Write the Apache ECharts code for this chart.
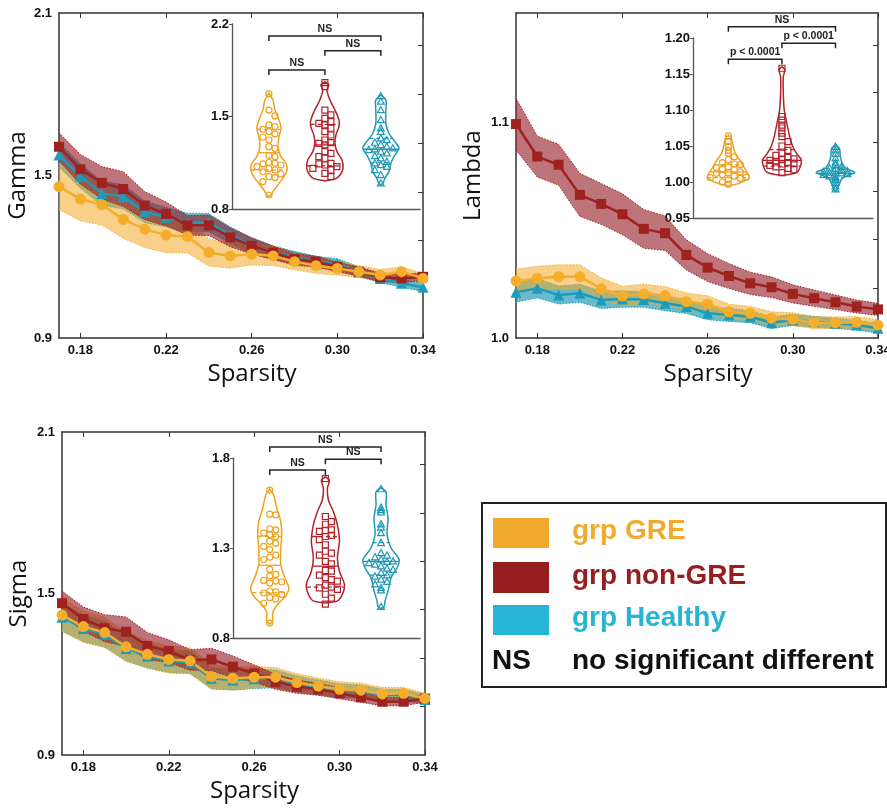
<!DOCTYPE html>
<html>
<head>
<meta charset="UTF-8">
<title>Gamma / Lambda / Sigma vs Sparsity</title>
<script src="https://cdn.jsdelivr.net/npm/echarts@6/dist/echarts.min.js"></script>
<style>html,body{margin:0;padding:0;background:#fff}</style>
</head>
<body>
<div id="main" style="width:887px;height:809px"></div>
<script>
// ---- shared x values / ticks
var sparsity = [0.17,0.18,0.19,0.20,0.21,0.22,0.23,0.24,0.25,0.26,0.27,0.28,0.29,0.30,0.31,0.32,0.33,0.34];
var xTicks = [0.18,0.22,0.26,0.30,0.34];

// ---- Gamma (mean, sd)
var gammaGRE     = [1.459,1.413,1.392,1.338,1.302,1.280,1.274,1.216,1.203,1.210,1.203,1.182,1.167,1.157,1.145,1.133,1.145,1.120];
var gammaNonGRE  = [1.606,1.523,1.473,1.450,1.389,1.358,1.316,1.316,1.272,1.240,1.215,1.191,1.182,1.163,1.145,1.124,1.120,1.126];
var gammaHealthy = [1.576,1.498,1.434,1.422,1.366,1.346,1.326,1.326,1.280,1.240,1.215,1.198,1.182,1.173,1.145,1.120,1.102,1.087];
var gammaSdGRE     = [0.085,0.080,0.075,0.070,0.068,0.065,0.060,0.050,0.045,0.040,0.035,0.030,0.028,0.025,0.022,0.020,0.018,0.018];
var gammaSdNonGRE  = [0.052,0.055,0.060,0.064,0.052,0.044,0.036,0.038,0.035,0.030,0.025,0.022,0.020,0.018,0.017,0.016,0.015,0.015];
var gammaSdHealthy = [0.045,0.045,0.045,0.045,0.040,0.036,0.035,0.034,0.030,0.030,0.025,0.022,0.020,0.020,0.018,0.016,0.015,0.015];

// ---- Lambda
var lambdaGRE     = [1.0265,1.0278,1.0285,1.0285,1.0229,1.0195,1.0205,1.0197,1.0169,1.0158,1.0122,1.0115,1.0092,1.0087,1.0071,1.0071,1.0073,1.0060];
var lambdaNonGRE  = [1.0994,1.0843,1.0805,1.0665,1.0623,1.0575,1.0507,1.0487,1.0386,1.0327,1.0288,1.0254,1.0236,1.0205,1.0185,1.0166,1.0146,1.0133];
var lambdaHealthy = [1.0212,1.0231,1.0200,1.0208,1.0177,1.0181,1.0179,1.0161,1.0146,1.0115,1.0107,1.0099,1.0071,1.0084,1.0076,1.0068,1.0060,1.0045];
var lambdaSdGRE     = [0.0055,0.0055,0.0055,0.0055,0.0050,0.0045,0.0045,0.0042,0.0040,0.0038,0.0035,0.0032,0.0030,0.0030,0.0028,0.0027,0.0026,0.0025];
var lambdaSdNonGRE  = [0.0120,0.0095,0.0095,0.0100,0.0095,0.0095,0.0090,0.0080,0.0070,0.0065,0.0058,0.0052,0.0048,0.0042,0.0038,0.0034,0.0030,0.0028];
var lambdaSdHealthy = [0.0045,0.0045,0.0042,0.0042,0.0040,0.0038,0.0036,0.0034,0.0032,0.0030,0.0030,0.0028,0.0027,0.0026,0.0025,0.0024,0.0023,0.0022];

// ---- Sigma
var sigmaGRE     = [1.420,1.377,1.355,1.302,1.274,1.255,1.250,1.191,1.185,1.189,1.189,1.169,1.156,1.144,1.141,1.127,1.129,1.110];
var sigmaNonGRE  = [1.464,1.405,1.371,1.358,1.305,1.286,1.253,1.255,1.228,1.203,1.172,1.154,1.144,1.129,1.114,1.098,1.098,1.110];
var sigmaHealthy = [1.412,1.370,1.349,1.296,1.268,1.249,1.244,1.185,1.179,1.183,1.183,1.164,1.151,1.139,1.136,1.122,1.124,1.106];
var sigmaSdGRE     = [0.060,0.058,0.056,0.054,0.052,0.050,0.048,0.045,0.042,0.040,0.036,0.033,0.030,0.028,0.026,0.024,0.022,0.020];
var sigmaSdNonGRE  = [0.045,0.045,0.050,0.055,0.050,0.042,0.038,0.042,0.040,0.032,0.028,0.025,0.022,0.020,0.018,0.016,0.015,0.014];
var sigmaSdHealthy = [0.052,0.050,0.048,0.047,0.045,0.043,0.042,0.040,0.038,0.036,0.033,0.030,0.028,0.026,0.024,0.022,0.020,0.018];

// ---- main axis tick labels
var gammaYLabels = [0.9,1.5,2.1];
var lambdaYLabels = [1.0,1.1];
var sigmaYLabels = [0.9,1.5,2.1];
var gammaRightTicks = [1.08,1.26,1.44,1.62,1.80,1.98];
var lambdaRightTicks = [1.023,1.046,1.068,1.091,1.114,1.136];
var sigmaRightTicks = [1.08,1.26,1.44,1.62,1.80,1.98];

// ---- inset (violin) data: group positions 1,2,3
var groupPos = [1,2,3];
var gammaInsetLabels = [0.8,1.5,2.2];
var lambdaInsetLabels = [0.95,1.00,1.05,1.10,1.15,1.20];
var sigmaInsetLabels = [0.8,1.3,1.8];

var gammaPtsGRE = [1.671,1.549,1.504,1.436,1.423,1.403,1.385,1.368,1.343,1.322,1.272,1.259,1.204,1.196,1.152,1.146,1.141,1.133,1.120,1.105,1.095,1.082,1.065,1.045,1.038,1.007,0.906];
var gammaPtsNonGRE = [1.756,1.726,1.549,1.512,1.486,1.461,1.448,1.436,1.411,1.385,1.360,1.322,1.302,1.297,1.285,1.234,1.221,1.196,1.184,1.146,1.141,1.133,1.120,1.108,1.095,1.070,1.045];
var gammaPtsHealthy = [1.655,1.613,1.549,1.474,1.411,1.385,1.335,1.322,1.302,1.285,1.272,1.259,1.252,1.247,1.234,1.221,1.201,1.184,1.158,1.146,1.133,1.120,1.095,1.057,0.994];
// [value, relative half width]
var gammaVioGRE = [[1.676,0],[1.625,0.2],[1.549,0.3],[1.474,0.5],[1.411,0.6],[1.348,0.5],[1.272,0.45],[1.196,0.6],[1.146,0.85],[1.095,0.9],[1.045,0.75],[0.994,0.5],[0.944,0.25],[0.906,0.1],[0.893,0]];
var gammaVioNonGRE = [[1.764,0],[1.739,0.2],[1.700,0.1],[1.625,0.25],[1.549,0.5],[1.474,0.7],[1.423,0.7],[1.360,0.55],[1.297,0.5],[1.234,0.6],[1.171,0.85],[1.108,0.9],[1.057,0.75],[1.030,0.55],[1.012,0]];
var gammaVioHealthy = [[1.663,0],[1.625,0.25],[1.549,0.25],[1.448,0.25],[1.373,0.4],[1.310,0.7],[1.259,0.9],[1.209,0.7],[1.146,0.5],[1.083,0.4],[1.032,0.2],[0.994,0.1],[0.982,0]];
var gammaQuartGRE = [1.095,1.226,1.403];
var gammaQuartNonGRE = [1.126,1.285,1.441];
var gammaQuartHealthy = [1.151,1.252,1.335];
var gammaBrackets = [[1,3,2.109,'NS'],[2,3,1.998,'NS'],[1,2,1.852,'NS']];

var lambdaPtsGRE = [1.064,1.056,1.049,1.044,1.040,1.035,1.031,1.027,1.025,1.024,1.021,1.020,1.018,1.017,1.014,1.013,1.012,1.010,1.008,1.007,1.006,1.005,1.003,1.000,0.997];
var lambdaPtsNonGRE = [1.158,1.091,1.086,1.079,1.075,1.068,1.063,1.056,1.050,1.044,1.040,1.037,1.034,1.032,1.031,1.030,1.028,1.027,1.026,1.025,1.023,1.021,1.019,1.017,1.013];
var lambdaPtsHealthy = [1.049,1.044,1.039,1.033,1.027,1.024,1.021,1.019,1.018,1.017,1.015,1.014,1.013,1.012,1.012,1.011,1.010,1.008,1.007,1.005,1.003,0.999,0.994,0.990];
var lambdaVioGRE = [[1.065,0],[1.061,0.15],[1.049,0.25],[1.040,0.35],[1.030,0.6],[1.021,0.8],[1.012,1.0],[1.006,1.1],[1.001,0.8],[0.997,0.4],[0.995,0]];
var lambdaVioNonGRE = [[1.160,0],[1.156,0.15],[1.146,0.07],[1.123,0.07],[1.100,0.12],[1.086,0.22],[1.063,0.4],[1.050,0.55],[1.040,0.75],[1.031,1.0],[1.021,0.95],[1.014,0.8],[1.011,0.5],[1.009,0]];
var lambdaVioHealthy = [[1.051,0],[1.047,0.2],[1.035,0.25],[1.026,0.35],[1.019,0.55],[1.013,1.0],[1.010,0.75],[1.005,0.35],[0.996,0.18],[0.989,0.08],[0.987,0]];
var lambdaQuartGRE = [1.006,1.014,1.024];
var lambdaQuartNonGRE = [1.022,1.030,1.045];
var lambdaQuartHealthy = [1.006,1.012,1.019];
var lambdaBrackets = [[1,3,1.2157,'NS'],[2,3,1.1926,'p < 0.0001'],[1,2,1.1704,'p < 0.0001']];

var sigmaPtsGRE = [1.622,1.488,1.484,1.407,1.401,1.383,1.374,1.362,1.337,1.326,1.309,1.291,1.260,1.249,1.236,1.181,1.153,1.144,1.120,1.116,1.111,1.105,1.061,1.056,1.050,1.043,1.024,1.017,0.993,0.883];
var sigmaPtsNonGRE = [1.686,1.475,1.447,1.432,1.401,1.396,1.392,1.370,1.364,1.346,1.318,1.282,1.272,1.260,1.226,1.212,1.175,1.171,1.149,1.135,1.124,1.116,1.094,1.083,1.079,1.070,1.043,1.021,0.988];
var sigmaPtsHealthy = [1.627,1.524,1.511,1.499,1.432,1.414,1.383,1.328,1.272,1.258,1.249,1.236,1.226,1.223,1.217,1.208,1.199,1.186,1.179,1.162,1.149,1.142,1.125,1.112,1.098,1.079,1.065,0.973];
var sigmaVioGRE = [[1.627,0],[1.594,0.2],[1.521,0.35],[1.447,0.55],[1.374,0.6],[1.300,0.55],[1.208,0.55],[1.135,0.75],[1.079,0.95],[1.033,0.8],[0.988,0.4],[0.942,0.15],[0.896,0.15],[0.877,0]];
var sigmaVioNonGRE = [[1.695,0],[1.677,0.2],[1.631,0.1],[1.567,0.15],[1.502,0.4],[1.429,0.6],[1.337,0.7],[1.245,0.6],[1.171,0.7],[1.098,0.95],[1.043,0.85],[1.006,0.6],[0.995,0]];
var sigmaVioHealthy = [[1.634,0],[1.612,0.25],[1.539,0.25],[1.465,0.35],[1.374,0.3],[1.300,0.5],[1.236,0.9],[1.190,0.8],[1.135,0.5],[1.061,0.35],[1.006,0.2],[0.973,0.15],[0.965,0]];
var sigmaQuartGRE = [1.052,1.204,1.364];
var sigmaQuartNonGRE = [1.083,1.199,1.364];
var sigmaQuartHealthy = [1.149,1.226,1.330];
var sigmaBrackets = [[1,3,1.861,'NS'],[2,3,1.793,'NS'],[1,2,1.733,'NS']];

// ---- colours
var cGRE = '#F4AE2C', cNon = '#A0221F', cHealthy = '#1D9CB9';
var vGRE = '#F0A21E', vNon = '#B0232B', vHealthy = '#2099B4';
var bandGRE = 'rgba(242,170,40,0.55)', bandNon = 'rgba(150,30,42,0.62)', bandHealthy = 'rgba(30,155,180,0.68)';
var lbl = '"Liberation Sans", Arial, sans-serif';
var VIOLIN_W = 0.36;

var dom = document.getElementById('main');
var myChart = echarts.init(dom);

var xAxes = [], yAxes = [], series = [];
var frame = {show: true, onZero: false, lineStyle: {color: '#333', width: 1.5}};
var tickFont = {fontWeight: 'bold', fontSize: 13, fontFamily: lbl, color: '#111'};

function mainAxes(gi, yMin, yMax, yLabels, rightTicks, yName, yGap) {
    xAxes.push({gridIndex: gi, type: 'value', min: 0.17, max: 0.34, position: 'bottom',
        axisLine: frame, splitLine: {show: false},
        axisTick: {show: true, inside: true, length: 5, customValues: xTicks, lineStyle: {color: '#333'}},
        axisLabel: Object.assign({customValues: xTicks, margin: 6, formatter: function (v) { return v.toFixed(2); }}, tickFont),
        name: 'Sparsity', nameLocation: 'middle', nameGap: 24,
        nameTextStyle: {fontSize: 24, fontFamily: 'Open Sans', color: '#111', padding: [0, 0, 0, 22]}});
    xAxes.push({gridIndex: gi, type: 'value', min: 0.17, max: 0.34, position: 'top',
        axisLine: frame, splitLine: {show: false}, axisLabel: {show: false},
        axisTick: {show: true, inside: true, length: 5, customValues: xTicks, lineStyle: {color: '#333'}}});
    yAxes.push({gridIndex: gi, type: 'value', min: yMin, max: yMax, position: 'left',
        axisLine: frame, splitLine: {show: false}, axisTick: {show: false},
        axisLabel: Object.assign({customValues: yLabels, margin: 7, formatter: function (v) { return v.toFixed(1); }}, tickFont),
        name: yName, nameLocation: 'middle', nameGap: yGap,
        nameTextStyle: {fontSize: 24, fontFamily: 'Open Sans', color: '#111'}});
    yAxes.push({gridIndex: gi, type: 'value', min: yMin, max: yMax, position: 'right',
        axisLine: frame, splitLine: {show: false}, axisLabel: {show: false},
        axisTick: {show: true, inside: true, length: 5, customValues: rightTicks, lineStyle: {color: '#333'}}});
}

function insetAxes(gi, yMin, yMax, yLabels, digits) {
    xAxes.push({gridIndex: gi, type: 'value', min: 0.34, max: 3.7, position: 'bottom',
        axisLine: {show: true, onZero: false, lineStyle: {color: '#555', width: 1.3}},
        axisTick: {show: false}, axisLabel: {show: false}, splitLine: {show: false}});
    yAxes.push({gridIndex: gi, type: 'value', min: yMin, max: yMax, position: 'left',
        axisLine: {show: true, onZero: false, lineStyle: {color: '#555', width: 1.3}},
        axisTick: {show: true, length: 3, customValues: yLabels, lineStyle: {color: '#555'}},
        splitLine: {show: false},
        axisLabel: Object.assign({customValues: yLabels, margin: 3, formatter: function (v) { return v.toFixed(digits); }}, tickFont)});
}

function bandSeries(xi, yi, mean, sd, fill, edge) {
    return {type: 'custom', xAxisIndex: xi, yAxisIndex: yi, z: 1, silent: true, clip: false,
        data: [[sparsity[0], mean[0]]],
        renderItem: function (params, api) {
            var up = [], lo = [];
            for (var i = 0; i < sparsity.length; i++) {
                up.push(api.coord([sparsity[i], mean[i] + sd[i]]));
                lo.push(api.coord([sparsity[i], mean[i] - sd[i]]));
            }
            return {type: 'group', children: [
                {type: 'polygon', shape: {points: up.concat(lo.slice().reverse())}, style: {fill: fill}},
                {type: 'polyline', shape: {points: up}, style: {fill: 'none', stroke: edge, lineWidth: 1, lineDash: [1.5, 1.5]}},
                {type: 'polyline', shape: {points: lo}, style: {fill: 'none', stroke: edge, lineWidth: 1, lineDash: [1.5, 1.5]}}
            ]};
        }};
}

function lineSeries(xi, yi, vals, color, symbol, size) {
    return {type: 'line', xAxisIndex: xi, yAxisIndex: yi, z: 3, silent: true,
        data: sparsity.map(function (x, i) { return [x, vals[i]]; }),
        symbol: symbol, symbolSize: size, showSymbol: true,
        itemStyle: {color: color}, lineStyle: {color: color, width: 2.5}};
}

function widthAt(profile, v) {
    for (var i = 0; i < profile.length - 1; i++) {
        var a = profile[i], b = profile[i + 1];
        if (v <= a[0] && v >= b[0]) {
            var t = (a[0] - v) / (a[0] - b[0]);
            return a[1] + t * (b[1] - a[1]);
        }
    }
    return 0;
}

function violinSeries(xi, yi, pos, profile, quart, color) {
    return {type: 'custom', xAxisIndex: xi, yAxisIndex: yi, z: 5, silent: true, clip: false,
        data: [[pos, quart[1]]],
        renderItem: function (params, api) {
            var right = profile.map(function (p) { return api.coord([pos + p[1] * VIOLIN_W, p[0]]); });
            var left = profile.map(function (p) { return api.coord([pos - p[1] * VIOLIN_W, p[0]]); }).reverse();
            var kids = [{type: 'polygon', shape: {points: right.concat(left), smooth: 0.3},
                style: {fill: 'none', stroke: color, lineWidth: 1.5}}];
            quart.forEach(function (q, k) {
                var w = widthAt(profile, q) * VIOLIN_W;
                var a = api.coord([pos - w, q]), b = api.coord([pos + w, q]);
                kids.push({type: 'line', shape: {x1: a[0], y1: a[1], x2: b[0], y2: b[1]},
                    style: {stroke: color, lineWidth: 1.3, lineDash: k === 1 ? null : [4, 3]}});
            });
            return {type: 'group', children: kids};
        }};
}

// deterministic beeswarm kept inside the violin: columns of `step` px,
// limited to the local half width; if no free slot, take the least crowded column
function swarm(ys, limits, step) {
    var order = ys.map(function (y, i) { return i; }).sort(function (a, b) { return ys[a] - ys[b]; });
    var placed = [], off = [];
    order.forEach(function (i) {
        var cands = [0];
        for (var k = 1; k * step <= limits[i]; k++) { cands.push(k * step, -k * step); }
        var best = 0, bestGap = -1;
        for (var c = 0; c < cands.length; c++) {
            var o = cands[c], gap = Infinity;
            placed.forEach(function (p) { if (p.x === o) gap = Math.min(gap, Math.abs(p.y - ys[i])); });
            if (gap >= step) { best = o; bestGap = gap; break; }
            if (gap > bestGap) { bestGap = gap; best = o; }
        }
        placed.push({x: best, y: ys[i]});
        off[i] = best;
    });
    return off;
}

function pointSeries(xi, yi, pos, vals, profile, color, shape) {
    return {type: 'custom', xAxisIndex: xi, yAxisIndex: yi, z: 6, silent: true, clip: false,
        data: vals.map(function (v) { return [pos, v]; }),
        renderItem: function (params, api) {
            var unit = api.coord([pos + 1, vals[0]])[0] - api.coord([pos, vals[0]])[0];
            var ys = vals.map(function (v) { return api.coord([pos, v])[1]; });
            var lim = vals.map(function (v) { return widthAt(profile, v) * VIOLIN_W * unit - 2; });
            var off = swarm(ys, lim, 6);
            var c = api.coord([pos, vals[params.dataIndex]]);
            var x = c[0] + off[params.dataIndex], y = c[1];
            var st = {fill: 'none', stroke: color, lineWidth: 1.2};
            if (shape === 'circle') return {type: 'circle', shape: {cx: x, cy: y, r: 3}, style: st};
            if (shape === 'rect') return {type: 'rect', shape: {x: x - 3, y: y - 3, width: 6, height: 6}, style: st};
            return {type: 'polygon', shape: {points: [[x, y - 3.6], [x + 3.4, y + 2.6], [x - 3.4, y + 2.6]]}, style: st};
        }};
}

function bracketSeries(xi, yi, bars) {
    return {type: 'custom', xAxisIndex: xi, yAxisIndex: yi, z: 7, silent: true, clip: false,
        data: bars.map(function (b) { return [b[0], b[2]]; }),
        renderItem: function (params, api) {
            var b = bars[params.dataIndex];
            var p1 = api.coord([b[0], b[2]]), p2 = api.coord([b[1], b[2]]);
            return {type: 'group', children: [
                {type: 'polyline', shape: {points: [[p1[0], p1[1] + 5], p1, p2, [p2[0], p2[1] + 5]]},
                    style: {fill: 'none', stroke: '#222', lineWidth: 1.5}},
                {type: 'text', style: {text: b[3], x: (p1[0] + p2[0]) / 2, y: p1[1] - 1.5,
                    align: 'center', verticalAlign: 'bottom', fill: '#222',
                    font: 'bold 10.5px ' + lbl}}
            ]};
        }};
}

function panel(xm, ym, xi, yi, means, sds, vio, pts, quarts, brackets) {
    series.push(bandSeries(xm, ym, means[2], sds[2], bandHealthy, cHealthy));
    series.push(bandSeries(xm, ym, means[0], sds[0], bandGRE, cGRE));
    series.push(bandSeries(xm, ym, means[1], sds[1], bandNon, cNon));
    series.push(lineSeries(xm, ym, means[2], cHealthy, 'triangle', 11));
    series.push(lineSeries(xm, ym, means[1], cNon, 'rect', 10));
    series.push(lineSeries(xm, ym, means[0], cGRE, 'circle', 11));
    var vc = [vGRE, vNon, vHealthy], sh = ['circle', 'rect', 'triangle'];
    for (var g = 0; g < 3; g++) {
        series.push(violinSeries(xi, yi, groupPos[g], vio[g], quarts[g], vc[g]));
        series.push(pointSeries(xi, yi, groupPos[g], pts[g], vio[g], vc[g], sh[g]));
    }
    series.push(bracketSeries(xi, yi, brackets));
}

// Gamma: grids 0 (main) / 1 (inset)
mainAxes(0, 0.9, 2.1, gammaYLabels, gammaRightTicks, 'Gamma', 19);
insetAxes(1, 0.8, 2.2, gammaInsetLabels, 1);
// Lambda: grids 2 / 3
mainAxes(2, 1.0, 1.151, lambdaYLabels, lambdaRightTicks, 'Lambda', 31);
insetAxes(3, 0.95, 1.20, lambdaInsetLabels, 2);
// Sigma: grids 4 / 5
mainAxes(4, 0.9, 2.1, sigmaYLabels, sigmaRightTicks, 'Sigma', 31);
insetAxes(5, 0.8, 1.8, sigmaInsetLabels, 1);

panel(0, 0, 2, 2, [gammaGRE, gammaNonGRE, gammaHealthy], [gammaSdGRE, gammaSdNonGRE, gammaSdHealthy],
    [gammaVioGRE, gammaVioNonGRE, gammaVioHealthy], [gammaPtsGRE, gammaPtsNonGRE, gammaPtsHealthy],
    [gammaQuartGRE, gammaQuartNonGRE, gammaQuartHealthy], gammaBrackets);
panel(3, 3, 5, 5, [lambdaGRE, lambdaNonGRE, lambdaHealthy], [lambdaSdGRE, lambdaSdNonGRE, lambdaSdHealthy],
    [lambdaVioGRE, lambdaVioNonGRE, lambdaVioHealthy], [lambdaPtsGRE, lambdaPtsNonGRE, lambdaPtsHealthy],
    [lambdaQuartGRE, lambdaQuartNonGRE, lambdaQuartHealthy], lambdaBrackets);
panel(6, 6, 8, 8, [sigmaGRE, sigmaNonGRE, sigmaHealthy], [sigmaSdGRE, sigmaSdNonGRE, sigmaSdHealthy],
    [sigmaVioGRE, sigmaVioNonGRE, sigmaVioHealthy], [sigmaPtsGRE, sigmaPtsNonGRE, sigmaPtsHealthy],
    [sigmaQuartGRE, sigmaQuartNonGRE, sigmaQuartHealthy], sigmaBrackets);

var legendFont = 'bold 28px ' + lbl;
var option = {
    animation: false,
    backgroundColor: '#fff',
    grid: [
        {left: 59, top: 13, width: 364, height: 325, outerBoundsMode: 'none'},
        {left: 232, top: 24, width: 188, height: 185, outerBoundsMode: 'none'},
        {left: 516, top: 13, width: 362, height: 325, outerBoundsMode: 'none'},
        {left: 693, top: 38, width: 180, height: 180, outerBoundsMode: 'none'},
        {left: 62, top: 432, width: 363, height: 323, outerBoundsMode: 'none'},
        {left: 233, top: 458, width: 187, height: 180, outerBoundsMode: 'none'}
    ],
    xAxis: xAxes,
    yAxis: yAxes,
    series: series,
    graphic: [
        {type: 'rect', shape: {x: 482, y: 503, width: 404, height: 184}, style: {fill: '#fff', stroke: '#222', lineWidth: 2}},
        {type: 'rect', shape: {x: 493, y: 518, width: 56, height: 30}, style: {fill: '#F2AA2E'}},
        {type: 'rect', shape: {x: 493, y: 562, width: 56, height: 31}, style: {fill: '#961E1E'}},
        {type: 'rect', shape: {x: 493, y: 605, width: 56, height: 30}, style: {fill: '#26B5D5'}},
        {type: 'text', x: 572, y: 531, style: {text: 'grp GRE', fill: '#F2AA2E', font: legendFont, verticalAlign: 'middle'}},
        {type: 'text', x: 572, y: 576, style: {text: 'grp non-GRE', fill: '#961E1E', font: legendFont, verticalAlign: 'middle'}},
        {type: 'text', x: 572, y: 618, style: {text: 'grp Healthy', fill: '#26B5D5', font: legendFont, verticalAlign: 'middle'}},
        {type: 'text', x: 492, y: 661, style: {text: 'NS', fill: '#111', font: legendFont, verticalAlign: 'middle'}},
        {type: 'text', x: 572, y: 661, style: {text: 'no significant different', fill: '#111', font: legendFont, verticalAlign: 'middle'}}
    ]
};
myChart.setOption(option);
</script>
</body>
</html>
